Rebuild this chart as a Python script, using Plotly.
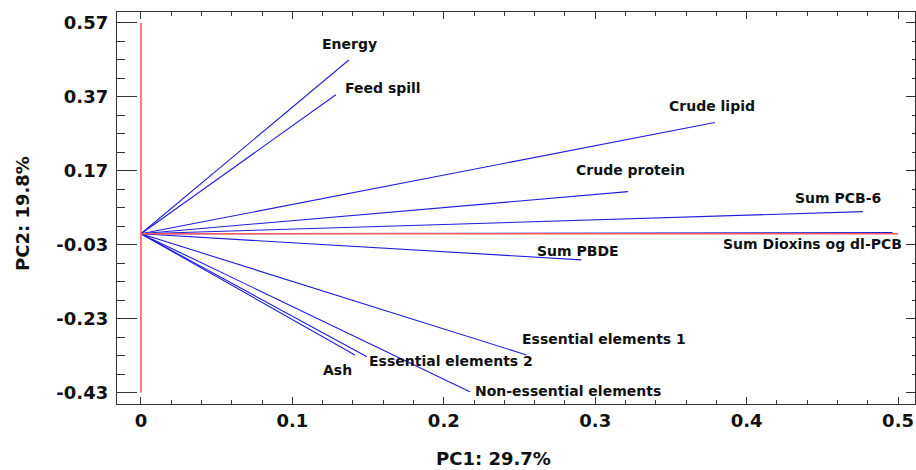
import plotly.graph_objects as go

# Loadings (PC1, PC2)
variables = ["Energy", "Feed spill", "Crude lipid", "Crude protein", "Sum PCB-6",
             "Sum Dioxins og dl-PCB", "Sum PBDE", "Essential elements 1",
             "Essential elements 2", "Ash", "Non-essential elements"]
pc1 = [0.1373, 0.1287, 0.3790, 0.3216, 0.4768, 0.4964, 0.2909, 0.2546, 0.1492, 0.1413, 0.2172]
pc2 = [0.470, 0.376, 0.301, 0.114, 0.060, 0.003, -0.0706, -0.3277, -0.3327, -0.3277, -0.427]

# label positions
label_x = [0.1380, 0.1597, 0.3772, 0.3234, 0.4603, 0.4432, 0.2884, 0.3057, 0.2045, 0.1300, 0.2818]
label_y = [0.512, 0.395, 0.345, 0.173, 0.097, -0.0287, -0.0463, -0.285, -0.3434, -0.3689, -0.4238]

# reference axes
ref_v_x = [0, 0]
ref_v_y = [-0.43, 0.57]
ref_h_x = [0, 0.5]
ref_h_y = [0, 0]

x_ticks = [0, 0.1, 0.2, 0.3, 0.4, 0.5]
x_ticktext = ["0", "0.1", "0.2", "0.3", "0.4", "0.5"]
y_ticks = [0.57, 0.37, 0.17, -0.03, -0.23, -0.43]
y_ticktext = ["0.57", "0.37", "0.17", "-0.03", "-0.23", "-0.43"]

x_title = "PC1: 29.7%"
y_title = "PC2: 19.8%"

FONT = "DejaVu Sans"
XR = [-0.01584, 0.5112]
YR = [-0.4603, 0.5997]

fig = go.Figure()
for name, x, y in zip(variables, pc1, pc2):
    fig.add_trace(go.Scatter(x=[0, x], y=[0, y], mode="lines",
                             line=dict(color="#1f1fd6", width=1.1),
                             showlegend=False, hoverinfo="skip", name=name))
fig.add_trace(go.Scatter(x=ref_v_x, y=ref_v_y, mode="lines",
                         line=dict(color="#ff5a5a", width=1.6), showlegend=False, hoverinfo="skip"))
fig.add_trace(go.Scatter(x=ref_h_x, y=ref_h_y, mode="lines",
                         line=dict(color="#ff5a5a", width=1.4), showlegend=False, hoverinfo="skip"))
# dummy trace for right-side tick axis
fig.add_trace(go.Scatter(x=[None], y=[None], yaxis="y2", showlegend=False, hoverinfo="skip"))

annotations = []
for name, lx, ly in zip(variables, label_x, label_y):
    annotations.append(dict(x=lx, y=ly, xref="x", yref="y", text=name, showarrow=False,
                            font=dict(family=FONT, size=14, color="#111111", weight=700),
                            xanchor="center", yanchor="middle"))
annotations.append(dict(x=(493 - 117) / 798, y=-0.138, xref="paper", yref="paper",
                        text=x_title, showarrow=False, xanchor="center", yanchor="middle",
                        font=dict(family=FONT, size=18, color="#111111", weight=700)))
annotations.append(dict(x=(22 - 117) / 798, y=(404 - 214) / 392, xref="paper", yref="paper",
                        text=y_title, showarrow=False, textangle=-90,
                        xanchor="center", yanchor="middle",
                        font=dict(family=FONT, size=18, color="#111111", weight=700)))

axis_common = dict(showgrid=False, zeroline=False, showline=True, linecolor="#333333",
                   linewidth=1.3, tickcolor="#333333", tickwidth=1.3, automargin=False,
                   tickfont=dict(family=FONT, size=18, color="#111111", weight=700))

fig.update_layout(
    width=916, height=470,
    margin=dict(l=117, r=1, t=12, b=66),
    plot_bgcolor="white", paper_bgcolor="white",
    xaxis=dict(range=XR, tickmode="array", tickvals=x_ticks, ticktext=x_ticktext,
               ticks="inside", ticklen=7, mirror="ticks",
               minor=dict(dtick=0.02, tick0=0, ticks="inside", ticklen=4,
                          tickcolor="#333333", tickwidth=1.1),
               **axis_common),
    yaxis=dict(range=YR, tickmode="array", tickvals=y_ticks, ticktext=y_ticktext,
               ticks="inside", ticklen=20, ticklabelstandoff=4,
               minor=dict(dtick=0.05, tick0=0.57, ticks="inside", ticklen=8,
                          tickcolor="#333333", tickwidth=1.1),
               **axis_common),
    yaxis2=dict(range=YR, overlaying="y", side="right", showgrid=False, zeroline=False,
                showline=True, linecolor="#333333", linewidth=1.3, automargin=False,
                tickmode="array", tickvals=y_ticks, showticklabels=False,
                ticks="inside", ticklen=9, tickcolor="#333333", tickwidth=1.3,
                minor=dict(dtick=0.05, tick0=0.57, ticks="inside", ticklen=3,
                           tickcolor="#333333", tickwidth=1.1)),
    annotations=annotations,
)

fig.write_html("out.html", config={"displayModeBar": False},
               post_script="document.body.style.margin='0';document.body.style.padding='0';"
                           "document.documentElement.style.overflow='hidden';")
